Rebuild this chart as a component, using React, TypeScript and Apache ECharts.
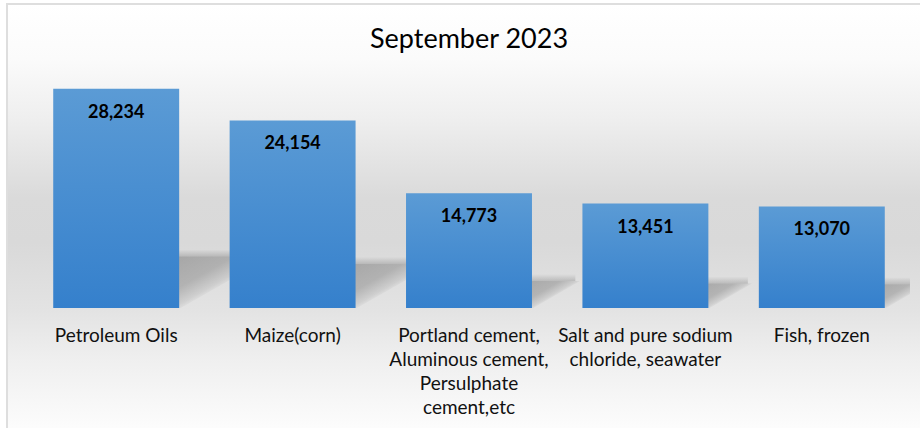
import React, { useEffect, useRef } from "react";
import * as echarts from "echarts";

const TITLE = "September 2023";
const categories: string[] = [
  "Petroleum Oils",
  "Maize(corn)",
  "Portland cement,\nAluminous cement,\nPersulphate\ncement,etc",
  "Salt and pure sodium\nchloride, seawater",
  "Fish, frozen",
];
const values: number[] = [28234, 24154, 14773, 13451, 13070];

const FONT = "Lato, 'Open Sans', 'Noto Sans', sans-serif";
const BAR_RATIO = 0.714;

export default function App() {
  const ref = useRef<HTMLDivElement>(null);

  useEffect(() => {
    if (!ref.current) return;
    const chart = echarts.init(ref.current, undefined, { renderer: "svg" });

    const option: any = {
      animation: false,
      backgroundColor: "#ffffff",
      graphic: [
        {
          type: "rect",
          z: -10,
          silent: true,
          shape: { x: 7, y: 4, width: 940, height: 450 },
          style: {
            stroke: "#dedede",
            lineWidth: 2,
            fill: {
              type: "linear",
              x: 0,
              y: 0,
              x2: 0,
              y2: 1,
              colorStops: [
                { offset: 0, color: "#ffffff" },
                { offset: 0.12, color: "#fbfbfb" },
                { offset: 0.26, color: "#eeeeee" },
                { offset: 0.43, color: "#dadada" },
                { offset: 0.53, color: "#d9d9d9" },
                { offset: 0.68, color: "#e3e3e3" },
                { offset: 0.79, color: "#efefef" },
                { offset: 0.94, color: "#fcfcfc" },
                { offset: 1, color: "#ffffff" },
              ],
            },
          },
        },
      ],
      title: {
        text: TITLE,
        left: 370,
        top: 24,
        padding: 0,
        textStyle: {
          fontFamily: FONT,
          fontSize: 27,
          fontWeight: "normal",
          color: "#000000",
        },
      },
      grid: { left: 28, right: 10, top: 75, bottom: 120, containLabel: false },
      xAxis: {
        type: "category",
        data: categories,
        axisLine: { show: false },
        axisTick: { show: false },
        splitLine: { show: false },
        axisLabel: {
          interval: 0,
          margin: 14,
          fontFamily: FONT,
          fontSize: 19,
          lineHeight: 24,
          color: "#111111",
          align: "center",
        },
      },
      yAxis: {
        type: "value",
        min: 0,
        max: 30000,
        show: false,
        splitLine: { show: false },
      },
      series: [
        {
          type: "custom",
          z: 1,
          clip: true,
          silent: true,
          data: values.map((v, i) => [i, v]),
          renderItem: (params: any, api: any) => {
            const idx = api.value(0);
            const top = api.coord([idx, api.value(1)]);
            const base = api.coord([idx, 0]);
            const band = api.size([1, 0])[0];
            const bw = band * BAR_RATIO;
            const x1 = base[0] + bw / 2;
            const h = base[1] - top[1];
            const dy = h * 0.235;
            const dx = h * 0.42;
            const y0 = base[1];
            const soft = 7;
            return {
              type: "group",
              children: [
                {
                  type: "polygon",
                  shape: {
                    points: [
                      [x1 - 2, y0 + 2],
                      [x1 - 2, y0 - dy],
                      [x1 + dx, y0 - dy],
                    ],
                  },
                  style: {
                    fill: {
                      type: "linear",
                      x: 0,
                      y: 0,
                      x2: 1,
                      y2: 1,
                      colorStops: [
                        { offset: 0, color: "rgba(0,0,0,0.24)" },
                        { offset: 0.3, color: "rgba(0,0,0,0.2)" },
                        { offset: 0.46, color: "rgba(0,0,0,0.08)" },
                        { offset: 0.52, color: "rgba(0,0,0,0)" },
                        { offset: 1, color: "rgba(0,0,0,0)" },
                      ],
                    },
                  },
                },
                {
                  type: "polygon",
                  shape: {
                    points: [
                      [x1 - 2, y0 - dy],
                      [x1 - 2, y0 - dy - soft],
                      [x1 + dx * 0.9, y0 - dy - soft],
                      [x1 + dx * 0.9, y0 - dy],
                    ],
                  },
                  style: {
                    fill: {
                      type: "linear",
                      x: 0,
                      y: 0,
                      x2: 0,
                      y2: 1,
                      colorStops: [
                        { offset: 0, color: "rgba(0,0,0,0)" },
                        { offset: 1, color: "rgba(0,0,0,0.16)" },
                      ],
                    },
                  },
                },
              ],
            };
          },
        },
        {
          type: "bar",
          z: 3,
          data: values,
          barWidth: BAR_RATIO * 100 + "%",
          itemStyle: {
            color: {
              type: "linear",
              x: 0,
              y: 0,
              x2: 0,
              y2: 1,
              colorStops: [
                { offset: 0, color: "#5b9bd5" },
                { offset: 1, color: "#3580cc" },
              ],
            },
          },
          label: {
            show: true,
            position: "insideTop",
            distance: 13,
            fontFamily: FONT,
            fontSize: 18,
            fontWeight: "bold",
            color: "#000000",
            formatter: (p: any) => Number(p.value).toLocaleString("en-US"),
          },
        },
      ],
    };

    chart.setOption(option);
    return () => chart.dispose();
  }, []);

  return (
    <div
      ref={ref}
      style={{ position: "absolute", left: 0, top: 0, width: 920, height: 428 }}
    />
  );
}
